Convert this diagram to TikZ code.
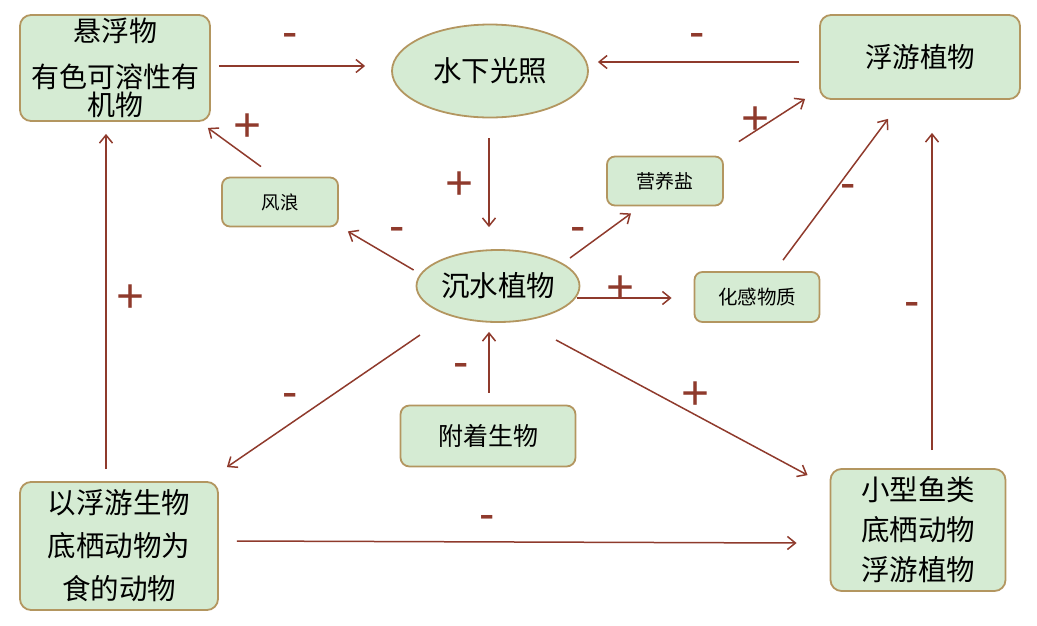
\documentclass[tikz,border=0pt]{standalone}
\usepackage{fontspec}
\setmainfont{Noto Sans CJK SC}
\newfontfamily\signfont{Liberation Sans}
\usetikzlibrary{calc,arrows.meta,shapes.geometric}
\definecolor{boxfill}{HTML}{D5EBD3}
\definecolor{boxline}{HTML}{B39660}
\definecolor{arrline}{HTML}{8F3A2C}

\begin{document}
\begin{tikzpicture}[x=1pt,y=-1pt,
		box/.style={draw=boxline, line width=1.8pt, fill=boxfill, rounded corners=11pt, inner sep=0pt, align=center},
		oval/.style={draw=boxline, line width=1.8pt, fill=boxfill, ellipse, inner sep=0pt},
		arr/.style={draw=arrline, line width=1.5pt, -{Straight Barb[length=8pt,width=13pt]}},
		possign/.style={text=arrline, font=\signfont\fontsize{48}{48}\selectfont, anchor=base, inner sep=0pt, yshift=-17pt},
		negsign/.style={text=arrline, font=\signfont\fontsize{46}{46}\selectfont, anchor=base, inner sep=0pt, yshift=-12.5pt}]
		%%%%% START %%%%%
		\useasboundingbox (0,0) rectangle (1037,625);
		
		\node[box, minimum width=190pt, minimum height=106pt, font=\fontsize{28}{28}\selectfont] (xf) at (115,68) {悬浮物\\[18pt]有色可溶性有\\机物};
		\node[oval, minimum width=196pt, minimum height=93pt, font=\fontsize{28.5}{30}\selectfont] (light) at (490,71) {水下光照};
		\node[box, minimum width=200pt, minimum height=84pt, font=\fontsize{27.5}{28}\selectfont] (fy) at (920,57) {浮游植物};
		
		\node[box, rounded corners=8pt, minimum width=116pt, minimum height=49pt, font=\fontsize{18.5}{20}\selectfont] (fl) at (280,202) {风浪};
		\node[box, rounded corners=8pt, minimum width=116pt, minimum height=49pt, font=\fontsize{19}{20}\selectfont] (yy) at (665,181) {营养盐};
		\node[oval, minimum width=163pt, minimum height=72pt, font=\fontsize{28.5}{29}\selectfont] (cs) at (498,286) {沉水植物};
		\node[box, rounded corners=8pt, minimum width=125pt, minimum height=50pt, font=\fontsize{19.5}{21}\selectfont] (hg) at (757,297) {化感物质};
		\node[box, rounded corners=9pt, minimum width=175pt, minimum height=61pt, font=\fontsize{25}{26}\selectfont] (fz) at (488,436) {附着生物};
		
		\node[box, minimum width=198pt, minimum height=128pt, font=\fontsize{28.5}{43}\selectfont] (yf) at (119,546) {以浮游生物\\底栖动物为\\食的动物};
		\node[box, minimum width=175pt, minimum height=122pt, font=\fontsize{28.5}{40}\selectfont] (xx) at (918,530) {小型鱼类\\底栖动物\\浮游植物};
		
		% top row
		\draw[arr] ($(xf.east)+(8,-2)$) -- ($(light.west)+(-26,-5)$);
		\node[negsign] (s1) at (290,35) {-};
		\draw[arr] ($(fy.west)+(-20,5)$) -- ($(light.east)+(9,-9)$);
		\node[negsign] (s2) at (697,35) {-};
		\draw[arr] ($(light.south)+(-1,20)$) -- ($(cs.north)+(-9,-22)$);
		\node[possign] (s3) at (460,182) {+};
		
		% around the plants
		\draw[arr] ($(cs.west)+(-2,-16)$) -- ($(fl.south east)+(9,4)$);
		\node[negsign] (s4) at (397,229) {-};
		\draw[arr] ($(fl.north)+(-19,-10)$) -- ($(xf.south east)+(-3,6)$);
		\node[possign] (s5) at (248,124) {+};
		\draw[arr] ($(cs)+(72,-28)$) -- ($(yy.south)+(-34,7)$);
		\node[negsign] (s6) at (578,229) {-};
		\draw[arr] ($(yy.north east)+(15,-14)$) -- ($(fy.south west)+(-14,-1)$);
		\node[possign] (s7) at (756,117) {+};
		\draw[arr] ($(cs.east)+(-3,12)$) -- ($(hg.west)+(-22,1)$);
		\node[possign] (s8) at (621,286) {+};
		\draw[arr] ($(hg.north)+(26,-11)$) -- ($(fy.south)+(-32,19)$);
		\node[negsign] (s9) at (848,186) {-};
		\draw[arr] ($(fz.north)+(1,-12)$) -- ($(cs.south)+(-9,9)$);
		\node[negsign] (s10) at (461,365) {-};
		\draw[arr] ($(cs)+(-78,49)$) -- ($(yf.north east)+(8,-14)$);
		\node[negsign] (s11) at (290,395) {-};
		\draw[arr] ($(cs)+(58,54)$) -- ($(xx.north west)+(-22,7)$);
		\node[possign] (s12) at (696,392) {+};
		
		% outer loop
		\draw[arr] ($(yf.north)+(-13,-12)$) -- ($(xf.south)+(-9,12)$);
		\node[possign] (s13) at (131,295) {+};
		\draw[arr] ($(yf.east)+(18,-5)$) -- ($(xx.west)+(-33,13)$);
		\node[negsign] (s14) at (487,517) {-};
		\draw[arr] ($(xx.north)+(14,-18)$) -- ($(fy.south)+(12,33)$);
		\node[negsign] (s15) at (912,304) {-};
		%%%%% END %%%%%
\end{tikzpicture}
\end{document}
